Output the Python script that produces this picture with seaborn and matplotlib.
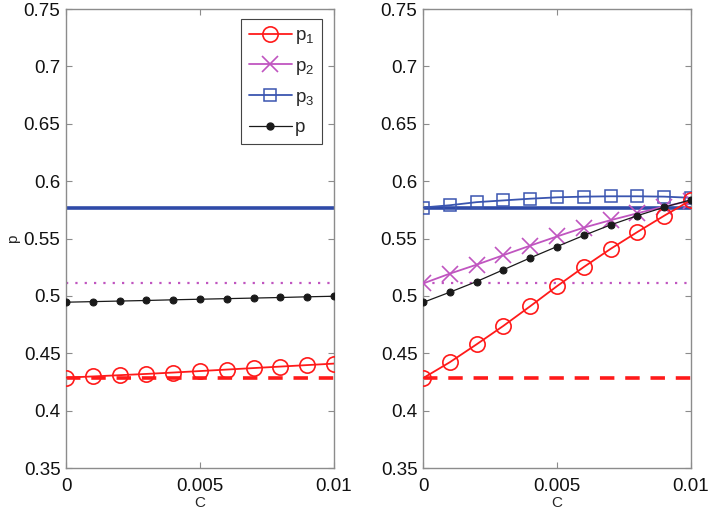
import numpy as np
import pandas as pd
import matplotlib
matplotlib.use("Agg")
import matplotlib.pyplot as plt
import seaborn as sns
from matplotlib.lines import Line2D

# ---- data -------------------------------------------------------------
C = [0, 0.001, 0.002, 0.003, 0.004, 0.005, 0.006, 0.007, 0.008, 0.009, 0.010]

# left panel
left_p1 = [0.4288, 0.4298, 0.4309, 0.4320, 0.4332, 0.4345, 0.4358, 0.4371, 0.4384, 0.4397, 0.4410]
left_p = [0.4945, 0.4950, 0.4955, 0.4960, 0.4966, 0.4971, 0.4976, 0.4981, 0.4986, 0.4992, 0.4997]

# right panel
right_p1 = [0.4283, 0.4422, 0.4578, 0.4739, 0.4910, 0.5085, 0.5252, 0.5410, 0.5557, 0.5699, 0.5835]
right_p2 = [0.5108, 0.5194, 0.5272, 0.5355, 0.5438, 0.5518, 0.5595, 0.5660, 0.5720, 0.5779, 0.5830]
right_p3 = [0.5770, 0.5790, 0.5817, 0.5832, 0.5847, 0.5859, 0.5865, 0.5868, 0.5868, 0.5865, 0.5855]
right_p = [0.4943, 0.5032, 0.5125, 0.5228, 0.5331, 0.5430, 0.5527, 0.5619, 0.5699, 0.5773, 0.5838]

# baselines (C = 0 reference values)
base_p1 = 0.4286
base_p2 = 0.5110
base_p3 = 0.5770

yticks = [0.35, 0.4, 0.45, 0.5, 0.55, 0.6, 0.65, 0.7, 0.75]
ytick_labels = ["0.35", "0.4", "0.45", "0.5", "0.55", "0.6", "0.65", "0.7", "0.75"]
xticks = [0, 0.005, 0.01]
xtick_labels = ["0", "0.005", "0.01"]
labels = [r"$\mathregular{p_1}$", r"$\mathregular{p_2}$", r"$\mathregular{p_3}$", "p"]

# ---- styling ----------------------------------------------------------
sns.set_style("ticks")
plt.rcParams["font.family"] = ["Liberation Sans", "DejaVu Sans"]
plt.rcParams["mathtext.fontset"] = "custom"
plt.rcParams["mathtext.rm"] = "Liberation Sans"

RED = "#ff1a1a"
MAG = "#c055c0"
BLUE = "#3a55b0"
BLUE_BASE = "#2f4aa8"
BLACK = "#1a1a1a"
FRAME = "#8c8c8c"

fig = plt.figure(figsize=(7.10, 5.13), dpi=100)
axL = fig.add_axes([0.0930, 0.0877, 0.3775, 0.8947])
axR = fig.add_axes([0.5958, 0.0877, 0.3775, 0.8947])

def baselines(ax):
    ax.axhline(base_p3, color=BLUE_BASE, lw=2.6, zorder=2)
    ax.axhline(base_p2, color=MAG, lw=1.6, ls=(0, (1, 3.2)), zorder=2)
    ax.axhline(base_p1, color=RED, lw=2.6, ls=(0, (4, 3)), zorder=2)

def p1_line(ax, y):
    sns.lineplot(x=C, y=y, ax=ax, color=RED, lw=1.3, marker="o", markersize=11,
                 markerfacecolor="none", markeredgecolor=RED, markeredgewidth=1.2,
                 zorder=5)

def p_line(ax, y):
    sns.lineplot(x=C, y=y, ax=ax, color=BLACK, lw=0.9, marker="o", markersize=5,
                 markerfacecolor=BLACK, markeredgecolor=BLACK, zorder=6)

# left panel
baselines(axL)
p1_line(axL, left_p1)
p_line(axL, left_p)

# right panel
baselines(axR)
sns.lineplot(x=C, y=right_p3, ax=axR, color=BLUE, lw=1.3, marker="s", markersize=9,
             markerfacecolor="none", markeredgecolor=BLUE, markeredgewidth=1.1, zorder=4)
sns.lineplot(x=C, y=right_p2, ax=axR, color=MAG, lw=1.3, marker="x", markersize=11,
             markeredgecolor=MAG, markeredgewidth=1.2, zorder=4)
p_line(axR, right_p)
p1_line(axR, right_p1)

for ax in (axL, axR):
    ax.set_xlim(0, 0.01)
    ax.set_ylim(0.35, 0.75)
    ax.set_yticks(yticks)
    ax.set_yticklabels(ytick_labels)
    ax.set_xticks(xticks)
    ax.set_xticklabels(xtick_labels)
    ax.tick_params(direction="in", length=4, width=0.8, color=FRAME,
                   labelsize=13.5, labelcolor="#111111", top=True, right=True)
    ax.tick_params(axis="x", pad=7)
    ax.tick_params(axis="y", pad=4)
    for s in ax.spines.values():
        s.set_visible(True)
        s.set_color(FRAME)
        s.set_linewidth(1.0)
    ax.set_xlabel("C", fontsize=11, labelpad=1)

axL.set_ylabel("p", fontsize=11, labelpad=3)
axR.set_ylabel("")

# legend on the left panel
handles = [
    Line2D([], [], color=RED, lw=1.3, marker="o", markersize=11, markerfacecolor="none",
           markeredgewidth=1.2),
    Line2D([], [], color=MAG, lw=1.3, marker="x", markersize=11, markeredgewidth=1.2),
    Line2D([], [], color=BLUE, lw=1.3, marker="s", markersize=9, markerfacecolor="none",
           markeredgewidth=1.1),
    Line2D([], [], color=BLACK, lw=0.9, marker="o", markersize=5),
]
leg = axL.legend(handles, labels, loc="upper right", bbox_to_anchor=(0.955, 0.978),
                 fontsize=13.5, frameon=True, fancybox=False, framealpha=1,
                 edgecolor="#444444", handlelength=2.3, labelspacing=0.62,
                 borderpad=0.42, handletextpad=0.15, borderaxespad=0)
leg.get_frame().set_linewidth(0.8)

fig.savefig("out.png", dpi=100)
